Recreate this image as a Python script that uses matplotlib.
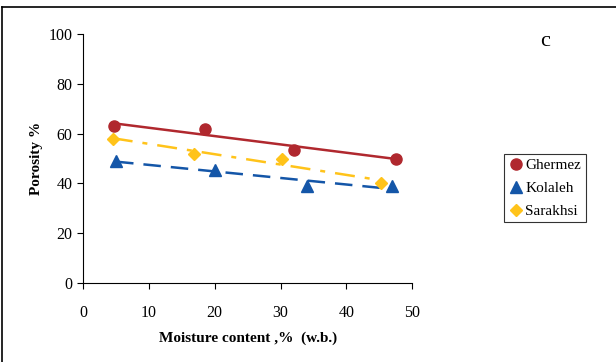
import matplotlib.pyplot as plt
import numpy as np
from matplotlib.lines import Line2D

plt.rcParams['font.family'] = ['Liberation Serif', 'DejaVu Serif']

# data
ghermez_x = [4.7, 18.5, 32.0, 47.5]
ghermez_y = [63.0, 62.0, 53.5, 50.0]
kolaleh_x = [5.0, 20.0, 34.0, 47.0]
kolaleh_y = [49.0, 45.5, 39.0, 39.0]
sarakhsi_x = [4.5, 16.8, 30.2, 45.3]
sarakhsi_y = [58.0, 52.0, 50.0, 40.0]

series = [
    ("Ghermez", ghermez_x, ghermez_y, "#B0282E", "o", "-", 8),
    ("Kolaleh", kolaleh_x, kolaleh_y, "#1456A8", "^", (0, (7, 4)), 8),
    ("Sarakhsi", sarakhsi_x, sarakhsi_y, "#FFC31A", "D", (0, (8, 4, 2, 4)), 6.5),
]

fig = plt.figure(figsize=(6.16, 3.62), dpi=100)
ax = fig.add_axes([0.135, 0.218, 0.534, 0.688])

for name, x, y, col, mk, ls, ms in series:
    ax.plot(x, y, linestyle="none", marker=mk, color=col, markersize=ms)
    # linear trend line through the points
    k, b = np.polyfit(x, y, 1)
    xx = np.array([min(x), max(x)])
    ax.plot(xx, k * xx + b, color=col, linestyle=ls, linewidth=1.8)

ax.set_xlim(0, 50)
ax.set_ylim(0, 100)
ax.set_xticks(range(0, 51, 10))
ax.set_yticks(range(0, 101, 20))
ax.spines['top'].set_visible(False)
ax.spines['right'].set_visible(False)
ax.tick_params(axis='x', direction='out', length=4, pad=12, labelsize=11.5)
ax.tick_params(axis='y', direction='out', length=4, labelsize=11.5)
ax.set_xlabel("Moisture content ,%  (w.b.)", fontsize=11, fontweight='bold', labelpad=7)
ax.set_ylabel("Porosity %", fontsize=11, fontweight='bold')

handles = [Line2D([], [], linestyle="none", marker=mk, color=col, markersize=ms)
           for name, x, y, col, mk, ls, ms in series]
leg = fig.legend(handles, [s[0] for s in series], loc='upper left',
                 bbox_to_anchor=(0.818, 0.575), fontsize=11, frameon=True,
                 fancybox=False, edgecolor='black', handletextpad=0.1,
                 handlelength=1.0, borderpad=0.3, labelspacing=0.6, borderaxespad=0)
leg.get_frame().set_linewidth(0.8)

fig.text(0.885, 0.885, "c", fontsize=16, ha='center', va='center')

# outer frame (top and left only)
fig.add_artist(Line2D([0.004, 0.004], [0, 0.982], color='black', linewidth=1.2))
fig.add_artist(Line2D([0.004, 1.0], [0.982, 0.982], color='black', linewidth=1.2))

fig.savefig("out.png", dpi=100)
